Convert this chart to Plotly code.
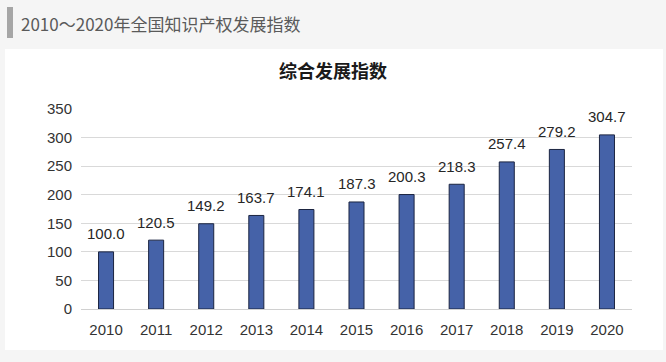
import plotly.graph_objects as go

years = ["2010", "2011", "2012", "2013", "2014", "2015", "2016", "2017", "2018", "2019", "2020"]
values = [100.0, 120.5, 149.2, 163.7, 174.1, 187.3, 200.3, 218.3, 257.4, 279.2, 304.7]
y_ticks = [0, 50, 100, 150, 200, 250, 300, 350]
header_text = "2010～2020年全国知识产权发展指数"
chart_title = "综合发展指数"

W, H = 666, 362
L, R, T, B = 81, 632, 109, 309  # plot area in pixels


def px_x(px):
    return (px - L) / (R - L)


def px_y(py):
    return (B - py) / (B - T)


fig = go.Figure()
fig.add_trace(go.Bar(
    x=years, y=values,
    marker=dict(color="#4562a8", line=dict(color="#1b2440", width=1)),
    width=0.3,
    hoverinfo="skip",
))

for i, v in enumerate(values):
    fig.add_annotation(
        x=i, y=v, xref="x", yref="y",
        text=f"{v:.1f}", showarrow=False,
        yanchor="middle", yshift=18,
        font=dict(family="Liberation Sans, Arial", size=15, color="#262626"),
    )

# header
fig.add_annotation(
    x=px_x(19), y=px_y(24), xref="paper", yref="paper",
    xanchor="left", yanchor="middle", showarrow=False,
    text=header_text,
    font=dict(family="Noto Sans CJK SC", size=17, color="#5a5a5a"),
)

fig.update_layout(
    width=W, height=H,
    margin=dict(l=L, r=W - R, t=T, b=H - B, pad=0),
    paper_bgcolor="#f5f5f5",
    plot_bgcolor="#ffffff",
    showlegend=False,
    title=dict(
        text=f"<b>{chart_title}</b>",
        x=333 / W, xanchor="center",
        y=1 - 72 / H, yanchor="middle", yref="container",
        font=dict(family="Noto Sans CJK SC", size=18, color="#1a1a1a"),
    ),
    shapes=[
        dict(type="rect", xref="paper", yref="paper", layer="below",
             x0=px_x(5), x1=px_x(663), y0=px_y(350), y1=px_y(49),
             fillcolor="#ffffff", line=dict(width=0)),
        dict(type="rect", xref="paper", yref="paper", layer="below",
             x0=px_x(7), x1=px_x(13), y0=px_y(38), y1=px_y(7),
             fillcolor="#a6a6a6", line=dict(width=0)),
    ],
    xaxis=dict(
        type="category", range=[-0.5, len(years) - 0.5],
        showgrid=False, showline=False, zeroline=False,
        ticks="", ticklabelstandoff=10,
        tickfont=dict(family="Liberation Sans, Arial", size=15, color="#333333"),
    ),
    yaxis=dict(
        range=[0, 350], tickvals=y_ticks, showgrid=True,
        gridcolor="#d9d9d9", gridwidth=1, zeroline=True,
        zerolinecolor="#d0d0d0", zerolinewidth=1, showline=False,
        ticks="", ticklabelstandoff=8,
        tickfont=dict(family="Liberation Sans, Arial", size=15, color="#333333"),
    ),
)

fig.write_html(
    "out.html",
    config={"displayModeBar": False},
    post_script="document.body.style.margin='0';document.body.style.background='#f5f5f5';",
)
